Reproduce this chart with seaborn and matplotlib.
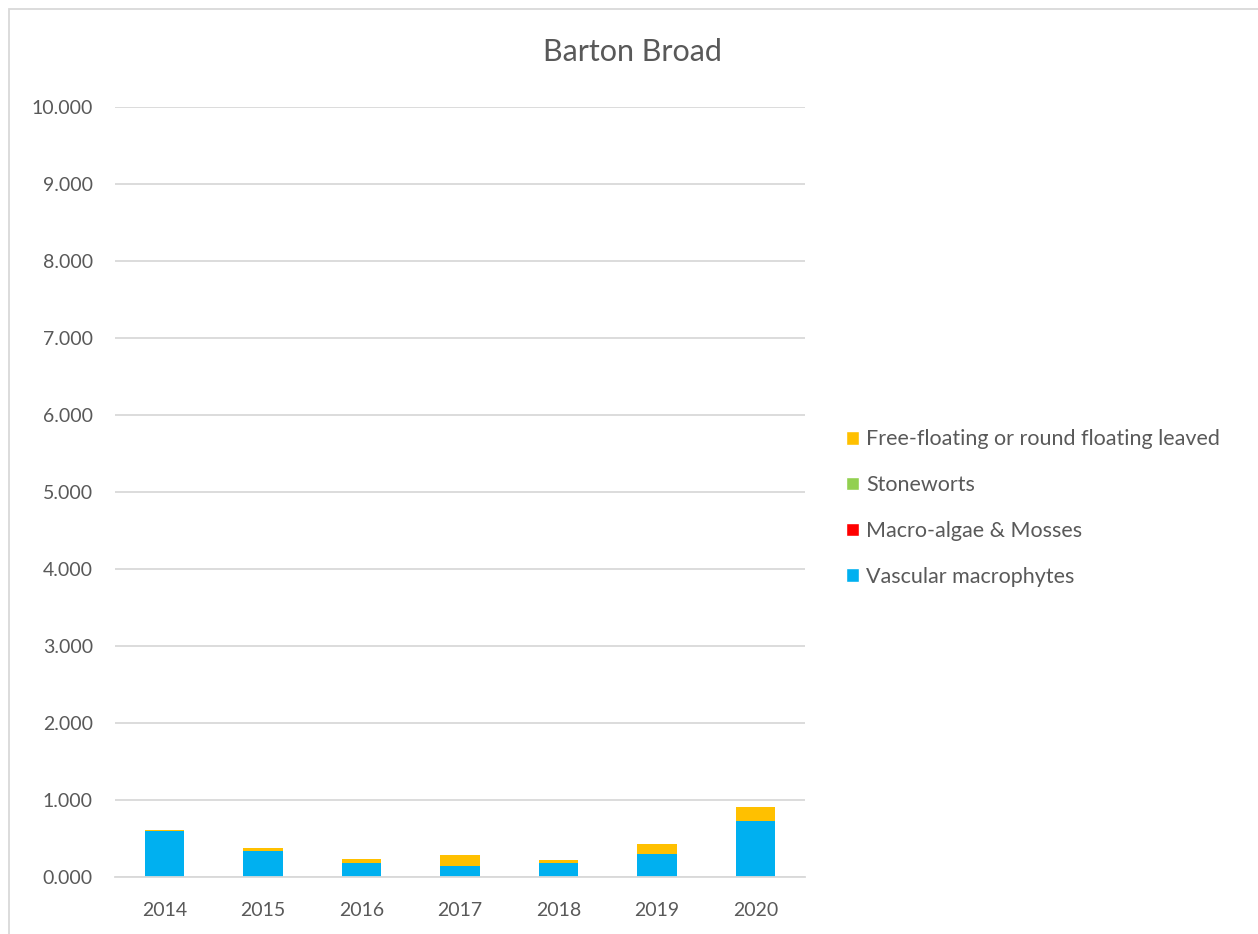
import matplotlib
matplotlib.use("Agg")
import matplotlib.pyplot as plt
import seaborn as sns
import pandas as pd
import numpy as np
from matplotlib.patches import Rectangle, Patch

years = ["2014", "2015", "2016", "2017", "2018", "2019", "2020"]
vascular = [0.597, 0.338, 0.177, 0.147, 0.186, 0.303, 0.732]
macro_algae = [0.0, 0.0, 0.005, 0.0, 0.0, 0.0, 0.0]
stoneworts = [0.0, 0.0, 0.0, 0.0, 0.0, 0.0, 0.0]
free_floating = [0.013, 0.039, 0.047, 0.134, 0.030, 0.130, 0.177]

series_names = ["Vascular macrophytes", "Macro-algae & Mosses", "Stoneworts",
                "Free-floating or round floating leaved"]
colors = ["#00B0F0", "#FF0000", "#92D050", "#FFC000"]

sns.set_theme(style="white")
plt.rcParams['font.family'] = ['Lato', 'DejaVu Sans']

fig = plt.figure(figsize=(12.58, 9.34), dpi=100)
ax = fig.add_axes([0.0914, 0.061, 0.5485, 0.8244])

cum = np.cumsum(np.array([vascular, macro_algae, stoneworts, free_floating]), axis=0)

# draw from top layer down so that lower layers overlay
for i in range(3, -1, -1):
    d = pd.DataFrame({"year": years, "val": cum[i]})
    sns.barplot(data=d, x="year", y="val", color=colors[i], width=0.4,
                saturation=1, ax=ax, errorbar=None, linewidth=0)

ax.set_xlim(-0.5, 6.5)
ax.set_ylim(0, 10)
ax.set_yticks(np.arange(0, 11, 1))
ax.set_yticklabels([f"{v:.3f}" for v in range(0, 11)])
ax.set_xlabel("")
ax.set_ylabel("")
ax.yaxis.grid(True, color="#D9D9D9", linewidth=1.3)
ax.set_axisbelow(True)
for s in ["top", "right", "left"]:
    ax.spines[s].set_visible(False)
ax.spines["bottom"].set_color("#D9D9D9")
ax.spines["bottom"].set_linewidth(1.3)
ax.tick_params(axis="both", colors="#595959", labelsize=14, length=0)
ax.tick_params(axis="x", pad=18)
ax.tick_params(axis="y", pad=16)

fig.text(0.503, 0.944, "Barton Broad", ha="center", va="center",
         fontsize=22, color="#595959")

handles = [Patch(facecolor=colors[i], label=series_names[i]) for i in range(3, -1, -1)]
leg = fig.legend(handles=handles, loc="center left", bbox_to_anchor=(0.657, 0.456),
                 frameon=False, fontsize=15.5, labelcolor="#595959",
                 handlelength=0.6, handleheight=0.6, handletextpad=0.35,
                 labelspacing=1.2)

fig.patches.append(Rectangle((9/1258, -0.01), 1.0, 1 - 9/934 + 0.01,
                             transform=fig.transFigure, fill=False,
                             edgecolor="#D9D9D9", linewidth=1.3))

fig.savefig("out.png", dpi=100)
